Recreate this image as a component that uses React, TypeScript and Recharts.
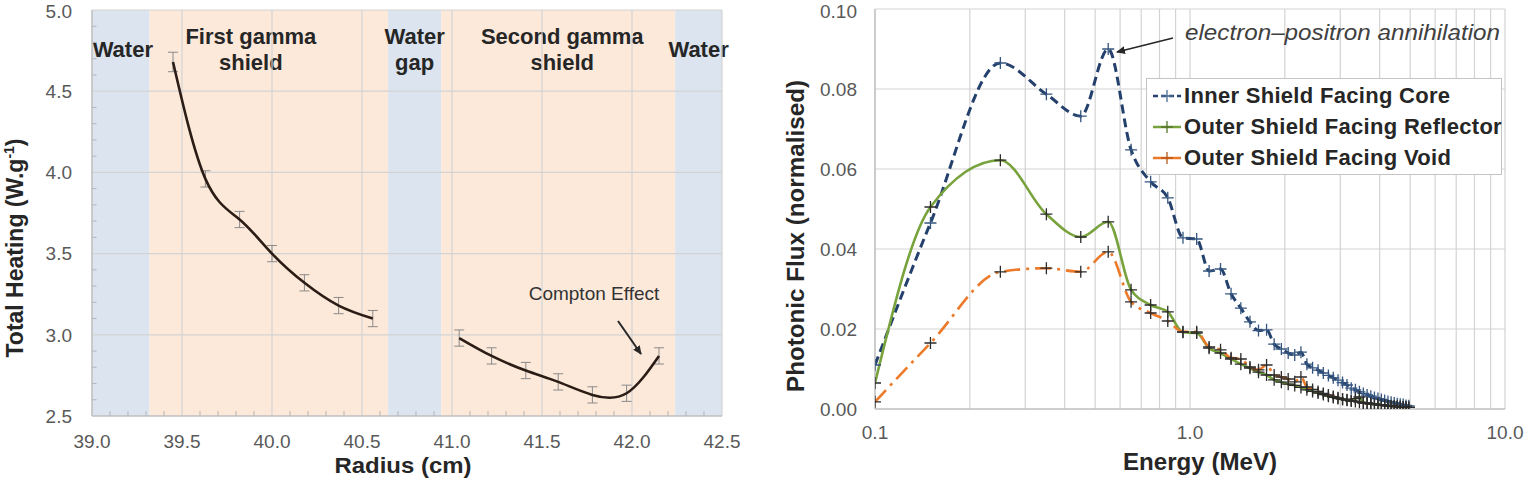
import React from 'react'
import {
  LineChart,
  Line,
  XAxis,
  YAxis,
  CartesianGrid,
  ReferenceArea,
  ReferenceLine,
  ErrorBar,
  Legend,
} from 'recharts'

const FONT = '"Liberation Sans", Arial, Helvetica, sans-serif'
const TICK = { fontSize: 19, fill: '#595959', fontFamily: FONT }
const GRID = '#d3d3d3'
const INK = '#262626'

// ---- left panel: total heating through the shields
const radiusFirst = [39.45, 39.63, 39.82, 40.0, 40.18, 40.37, 40.56]
const heatingFirst = [4.68, 3.96, 3.71, 3.5, 3.32, 3.18, 3.1]
const errFirst = [0.06, 0.05, 0.05, 0.05, 0.05, 0.05, 0.05]
const radiusSecond = [41.04, 41.22, 41.41, 41.59, 41.78, 41.97, 42.15]
const heatingSecond = [2.98, 2.87, 2.78, 2.71, 2.63, 2.64, 2.87]
const errSecond = [0.05, 0.05, 0.05, 0.05, 0.05, 0.05, 0.05]

const regionLabels = [['Water'], ['First gamma', 'shield'], ['Water', 'gap'], ['Second gamma', 'shield'], ['Water']]
const regionEdges = [39.0, 39.32, 40.645, 40.94, 42.24, 42.5]
const regionWater = [true, false, true, false, true]

const radiusTicks = [39.0, 39.5, 40.0, 40.5, 41.0, 41.5, 42.0, 42.5]
const heatingTicks = [2.5, 3.0, 3.5, 4.0, 4.5, 5.0]

// ---- right panel: photon spectra
const energy = [
  0.1, 0.15, 0.25, 0.35, 0.45, 0.55, 0.65, 0.75, 0.85, 0.95,
  1.05, 1.15, 1.25, 1.35, 1.45, 1.55, 1.65, 1.75, 1.85, 1.95,
  2.05, 2.15, 2.25, 2.35, 2.45, 2.55, 2.65, 2.75, 2.85, 2.95,
  3.05, 3.15, 3.25, 3.35, 3.45, 3.55, 3.65, 3.75, 3.85, 3.95,
  4.05, 4.15, 4.25, 4.35, 4.45, 4.55, 4.65, 4.75, 4.85, 4.95,
]
const fluxCore = [
  0.011, 0.0465, 0.0865, 0.0787, 0.0732, 0.09, 0.0648, 0.0568, 0.0528, 0.0428,
  0.0425, 0.0345, 0.035, 0.0288, 0.0252, 0.0218, 0.0196, 0.0198, 0.0162, 0.015,
  0.014, 0.0135, 0.0142, 0.0112, 0.0103, 0.0097, 0.009, 0.0084, 0.0078, 0.0072,
  0.0066, 0.006, 0.0052, 0.0048, 0.0043, 0.0039, 0.0035, 0.0032, 0.0029, 0.0026,
  0.0024, 0.0021, 0.0019, 0.0017, 0.0015, 0.0013, 0.0012, 0.0011, 0.0009, 0.0008,
]
const fluxReflector = [
  0.0065, 0.0505, 0.0622, 0.0487, 0.043, 0.0468, 0.0298, 0.026, 0.0243, 0.0192,
  0.019, 0.0152, 0.014, 0.0125, 0.0112, 0.0102, 0.0092, 0.0085, 0.0073, 0.0067,
  0.0062, 0.0059, 0.0054, 0.0048, 0.0044, 0.004, 0.0036, 0.0032, 0.0029, 0.0026,
  0.0024, 0.0022, 0.002, 0.0026, 0.003, 0.0016, 0.0015, 0.0013, 0.0012, 0.0011,
  0.001, 0.0009, 0.0008, 0.0007, 0.0007, 0.0006, 0.0005, 0.0005, 0.0004, 0.0004,
]
const fluxVoid = [
  0.0018, 0.0165, 0.0343, 0.0352, 0.0343, 0.0393, 0.0268, 0.024, 0.022, 0.0193,
  0.0193, 0.0155, 0.0148, 0.0128, 0.0125, 0.0105, 0.0098, 0.011, 0.0085, 0.008,
  0.0075, 0.0068, 0.008, 0.0055, 0.0049, 0.0044, 0.0039, 0.0035, 0.0031, 0.0028,
  0.0025, 0.0023, 0.0021, 0.0019, 0.0017, 0.0015, 0.0014, 0.0013, 0.0012, 0.0011,
  0.001, 0.0009, 0.0008, 0.0008, 0.0007, 0.0006, 0.0006, 0.0005, 0.0005, 0.0004,
]
const seriesNames = ['Inner Shield Facing Core', 'Outer Shield Facing Reflector', 'Outer Shield Facing Void']

const energyTicks = [0.1, 0.2, 0.3, 0.4, 0.5, 0.6, 0.7, 0.8, 0.9, 1, 2, 3, 4, 5, 6, 7, 8, 9, 10]
const energyLabels: Record<number, string> = { 0.1: '0.1', 1: '1.0', 10: '10.0' }
const fluxTicks = [0, 0.02, 0.04, 0.06, 0.08, 0.1]

const BLUE = '#24406c'
const GREEN = '#78a23c'
const ORANGE = '#ec7a2a'

const plusDot = (color: string) => (props: any) => {
  const { cx, cy, index } = props
  if (cx == null || cy == null) return <g key={`p${index}`} />
  return (
    <path
      key={`p${index}`}
      d={`M${cx - 6},${cy}h12M${cx},${cy - 6}v12`}
      stroke={color}
      strokeWidth={1.3}
      fill="none"
    />
  )
}

const bandLabel = (lines: string[], dx: number) => (props: any) => {
  const vb = props.viewBox
  const cx = vb.x + vb.width / 2 + dx
  const first = lines.length === 1 ? 57 : 44
  return (
    <text textAnchor="middle" fontFamily={FONT} fontWeight="bold" fontSize={22} fill={INK}>
      {lines.map((l, i) => (
        <tspan key={i} x={cx} y={first + i * 26}>
          {l}
        </tspan>
      ))}
    </text>
  )
}

function HeatingChart() {
  const first = radiusFirst.map((r, i) => ({ r, h: heatingFirst[i], err: errFirst[i] }))
  const second = radiusSecond.map((r, i) => ({ r, h: heatingSecond[i], err: errSecond[i] }))
  const labelShift = [2, -18, 0, 4, 0]
  const minorX: number[] = []
  for (let k = 1; k < 35; k++) if (k % 5 !== 0) minorX.push(+(39 + k * 0.1).toFixed(1))
  const minorY: number[] = []
  for (let k = 1; k < 25; k++) if (k % 5 !== 0) minorY.push(+(2.5 + k * 0.1).toFixed(1))

  return (
    <LineChart width={740} height={500} margin={{ top: 10, right: 18, bottom: 0, left: 0 }}>
      {regionLabels.map((_, i) => (
        <ReferenceArea
          key={`band${i}`}
          x1={regionEdges[i]}
          x2={regionEdges[i + 1]}
          fill={regionWater[i] ? '#dbe4ef' : '#fce9da'}
          fillOpacity={1}
          stroke="none"
        />
      ))}
      {radiusTicks.map((x) => (
        <ReferenceLine key={`gx${x}`} x={x} stroke={GRID} strokeWidth={1.2} />
      ))}
      {heatingTicks.map((y) => (
        <ReferenceLine key={`gy${y}`} y={y} stroke={GRID} strokeWidth={1.2} />
      ))}
      {minorX.map((x) => (
        <ReferenceLine key={`mx${x}`} segment={[{ x, y: 2.5 }, { x, y: 2.53 }]} stroke="#b5b5b5" />
      ))}
      {minorY.map((y) => (
        <ReferenceLine key={`my${y}`} segment={[{ x: 39, y }, { x: 39.025, y }]} stroke="#b5b5b5" />
      ))}
      {regionLabels.map((lines, i) => (
        <ReferenceArea
          key={`name${i}`}
          x1={regionEdges[i]}
          x2={regionEdges[i + 1]}
          fill="none"
          stroke="none"
          label={bandLabel(lines, labelShift[i])}
        />
      ))}
      <XAxis
        type="number"
        dataKey="r"
        domain={[39, 42.5]}
        ticks={radiusTicks}
        tickFormatter={(v: number) => v.toFixed(1)}
        tick={TICK}
        tickLine={false}
        tickSize={0}
        tickMargin={19}
        axisLine={{ stroke: '#b5b5b5' }}
        height={84}
        allowDataOverflow
      />
      <YAxis
        type="number"
        dataKey="h"
        domain={[2.5, 5]}
        ticks={heatingTicks}
        tickFormatter={(v: number) => v.toFixed(1)}
        tick={TICK}
        tickLine={false}
        tickSize={0}
        tickMargin={20}
        axisLine={{ stroke: '#b5b5b5' }}
        width={92}
        allowDataOverflow
      />
      <Line data={first} dataKey="h" type="natural" stroke="#2b1d16" strokeWidth={2.6} dot={false} isAnimationActive={false}>
        <ErrorBar dataKey="err" width={5} stroke="#8a8a8a" strokeWidth={1} direction="y" />
      </Line>
      <Line data={second} dataKey="h" type="natural" stroke="#2b1d16" strokeWidth={2.6} dot={false} isAnimationActive={false}>
        <ErrorBar dataKey="err" width={5} stroke="#8a8a8a" strokeWidth={1} direction="y" />
      </Line>
    </LineChart>
  )
}

const legendLook = [
  { stroke: BLUE, dash: '5 3', mark: '#4b6a94' },
  { stroke: GREEN, dash: undefined, mark: '#55752a' },
  { stroke: ORANGE, dash: undefined, mark: '#b85a1a' },
]

function FluxLegend() {
  return (
    <div
      style={{
        background: '#fff',
        border: '1.5px solid #c4c4c4',
        padding: '1px 5px',
        fontFamily: FONT,
        fontWeight: 'bold',
        fontSize: 22,
        color: INK,
        width: 344,
      }}
    >
      {seriesNames.map((name, i) => (
        <div key={name} style={{ display: 'flex', alignItems: 'center', height: 31, whiteSpace: 'nowrap' }}>
          <svg width={30} height={14} style={{ flex: 'none' }}>
            <line x1={1} y1={7} x2={29} y2={7} stroke={legendLook[i].stroke} strokeWidth={2.5} strokeDasharray={legendLook[i].dash} />
            <path d="M15,1v12M9,7h12" stroke={legendLook[i].mark} strokeWidth={1.3} />
          </svg>
          <span style={{ marginLeft: 2, letterSpacing: 0.3 }}>{name}</span>
        </div>
      ))}
    </div>
  )
}

function FluxChart() {
  const rows = energy.map((e, i) => ({
    e,
    core: fluxCore[i],
    reflector: fluxReflector[i],
    void: fluxVoid[i],
  }))
  return (
    <LineChart width={768} height={478} data={rows} margin={{ top: 9, right: 23, bottom: 0, left: 0 }}>
      <CartesianGrid stroke={GRID} strokeWidth={1.2} />
      <XAxis
        type="number"
        dataKey="e"
        scale="log"
        domain={[0.1, 10]}
        ticks={energyTicks}
        interval={0}
        tickFormatter={(v: number) => energyLabels[v] ?? ''}
        tick={TICK}
        tickLine={false}
        tickSize={0}
        tickMargin={17}
        axisLine={{ stroke: '#b5b5b5' }}
        height={69}
        allowDataOverflow
      />
      <YAxis
        type="number"
        domain={[0, 0.1]}
        ticks={fluxTicks}
        tickFormatter={(v: number) => v.toFixed(2)}
        tick={TICK}
        tickLine={false}
        tickSize={0}
        tickMargin={18}
        axisLine={{ stroke: '#b5b5b5' }}
        width={115}
        allowDataOverflow
      />
      <Legend
        layout="horizontal"
        verticalAlign="middle"
        align="center"
        wrapperStyle={{ left: 386, top: 78, width: 357 }}
        content={() => <FluxLegend />}
      />
      <Line
        dataKey="core"
        name={seriesNames[0]}
        type="monotone"
        stroke={BLUE}
        strokeWidth={3}
        strokeDasharray="9 5"
        dot={plusDot('#34557f')}
        isAnimationActive={false}
      />
      <Line
        dataKey="reflector"
        name={seriesNames[1]}
        type="monotone"
        stroke={GREEN}
        strokeWidth={2.6}
        dot={plusDot('#2b2b2b')}
        isAnimationActive={false}
      />
      <Line
        dataKey="void"
        name={seriesNames[2]}
        type="monotone"
        stroke={ORANGE}
        strokeWidth={2.6}
        strokeDasharray="16 6 3 6"
        dot={plusDot('#2b2b2b')}
        isAnimationActive={false}
      />
    </LineChart>
  )
}

function Annotations() {
  return (
    <svg
      width={1528}
      height={478}
      style={{ position: 'absolute', left: 0, top: 0, pointerEvents: 'none' }}
      fontFamily={FONT}
    >
      <defs>
        <marker id="ah" markerWidth="9" markerHeight="8" refX="8" refY="4" orient="auto" markerUnits="userSpaceOnUse">
          <path d="M0,0 L9,4 L0,8 z" fill={INK} />
        </marker>
      </defs>
      {/* axis titles */}
      <text transform="translate(23,248) rotate(-90)" textAnchor="middle" fontWeight="bold" fontSize={23} fill={INK}>
        Total Heating (W.g<tspan dy={-9} fontSize={14}>-1</tspan>
        <tspan dy={9}>)</tspan>
      </text>
      <text x={403} y={473} textAnchor="middle" fontWeight="bold" fontSize={22} fill={INK} textLength={137} lengthAdjust="spacingAndGlyphs">
        Radius (cm)
      </text>
      <text transform="translate(804,236) rotate(-90)" textAnchor="middle" fontWeight="bold" fontSize={23} fill={INK} textLength={312} lengthAdjust="spacingAndGlyphs">
        Photonic Flux (normalised)
      </text>
      <text x={1200} y={470} textAnchor="middle" fontWeight="bold" fontSize={23} fill={INK} textLength={154} lengthAdjust="spacingAndGlyphs">
        Energy (MeV)
      </text>
      {/* callouts */}
      <text x={594} y={300} textAnchor="middle" fontSize={19} fill="#333">
        Compton Effect
      </text>
      <line x1={618} y1={321} x2={641} y2={354} stroke={INK} strokeWidth={2} markerEnd="url(#ah)" />
      <text x={1185} y={40} fontSize={22} fontStyle="italic" fill="#404040" textLength={315} lengthAdjust="spacingAndGlyphs">
        electron–positron annihilation
      </text>
      <line x1={1173} y1={38} x2={1117} y2={52} stroke={INK} strokeWidth={1.3} markerEnd="url(#ah)" />
    </svg>
  )
}

export default function App() {
  return (
    <div style={{ position: 'absolute', left: 0, top: 0, width: 1528, height: 478, overflow: 'hidden', background: '#fff' }}>
      <div style={{ position: 'absolute', left: 0, top: 0 }}>
        <HeatingChart />
      </div>
      <div style={{ position: 'absolute', left: 760, top: 0 }}>
        <FluxChart />
      </div>
      <Annotations />
    </div>
  )
}
